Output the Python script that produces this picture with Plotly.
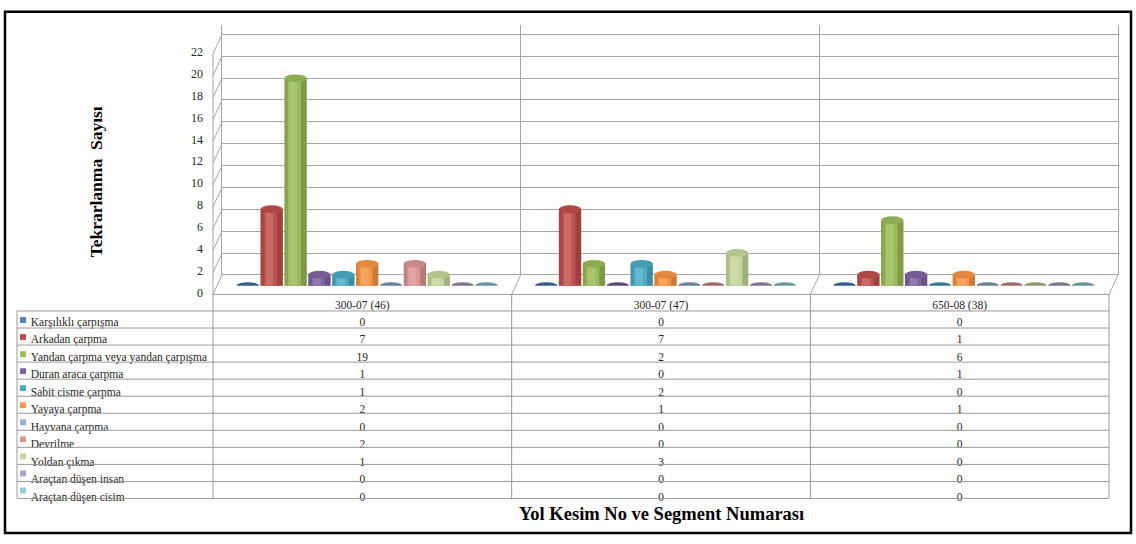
import plotly.graph_objects as go

# ---- data -------------------------------------------------------------
categories = ["300-07 (46)", "300-07 (47)", "650-08 (38)"]
series_names = [
    "Karşılıklı çarpışma",
    "Arkadan çarpma",
    "Yandan çarpma veya yandan çarpışma",
    "Duran araca çarpma",
    "Sabit cisme çarpma",
    "Yayaya çarpma",
    "Hayvana çarpma",
    "Devrilme",
    "Yoldan çıkma",
    "Araçtan düşen insan",
    "Araçtan düşen cisim",
]
karsilikli = [0, 0, 0]
arkadan = [7, 7, 1]
yandan = [19, 2, 6]
duran_araca = [1, 0, 1]
sabit_cisme = [1, 2, 0]
yayaya = [2, 1, 1]
hayvana = [0, 0, 0]
devrilme = [2, 0, 0]
yoldan_cikma = [1, 3, 0]
dusen_insan = [0, 0, 0]
dusen_cisim = [0, 0, 0]
series_values = [karsilikli, arkadan, yandan, duran_araca, sabit_cisme, yayaya,
                 hayvana, devrilme, yoldan_cikma, dusen_insan, dusen_cisim]
y_ticks = list(range(0, 23, 2))

# ---- styles -----------------------------------------------------------
colors = ["#4F81BD", "#C0504D", "#9BBB59", "#8064A2", "#4BACC6", "#F79646",
          "#95B3D7", "#D99694", "#C3D69B", "#B3A2C7", "#93CDDD"]
GRID = "#a6a6a6"
TABLE_LINE = "#9a9a9a"
TXT = "#262626"
SERIF = "Liberation Serif, Times New Roman, serif"

W, H = 1136, 544


def px(x):
    return x / W


def py(y):
    return 1 - y / H


def shade(hexcol, f):
    r, g, b = (int(hexcol[i:i + 2], 16) for i in (1, 3, 5))
    if f < 1:
        r, g, b = r * f, g * f, b * f
    else:
        t = f - 1
        r, g, b = r + (255 - r) * t, g + (255 - g) * t, b + (255 - b) * t
    return "#%02x%02x%02x" % (int(r), int(g), int(b))


# geometry of the 3-D frame (pixels)
FRONT_L, FRONT_R, FRONT_Y0 = 213, 1109, 295
BACK_L, BACK_R, BACK_Y0, BACK_TOP = 222, 1118, 275, 18
UNIT = 11.227                      # pixels per count on the walls
BAR_L, BAR_R, BAR_Y0, BAR_UNIT = 218, 1113, 286, 11.2
Y_MAX = 22
TABLE_L = 17
HEAD_H, ROW_H = 17, 17.5
TEXT_LIFT = 2.5                    # raises table text to the middle of its row

fig = go.Figure()

# ---- cylinders ---------------------------------------------------------
n = len(series_names)
slot = 0.08
bw = 0.075
cap_h = 4.0 / BAR_UNIT
disc_h = 3.5 / BAR_UNIT
shapes = []
for j, (name, vals, col) in enumerate(zip(series_names, series_values, colors)):
    xs = [i + (j - (n - 1) / 2) * slot for i in range(len(categories))]
    fig.add_trace(go.Bar(x=xs, y=vals, width=bw, name=name, marker_color=col,
                         marker_line_width=0, xaxis="x2", yaxis="y2",
                         showlegend=False, hoverinfo="skip"))
    # rounded lighting on the cylinder body
    fig.add_trace(go.Bar(x=[x - bw * 0.42 for x in xs], y=vals, width=bw * 0.16,
                         marker_color="rgba(0,0,0,0.12)", marker_line_width=0,
                         xaxis="x2", yaxis="y2", showlegend=False, hoverinfo="skip"))
    fig.add_trace(go.Bar(x=[x + bw * 0.37 for x in xs], y=vals, width=bw * 0.26,
                         marker_color="rgba(0,0,0,0.18)", marker_line_width=0,
                         xaxis="x2", yaxis="y2", showlegend=False, hoverinfo="skip"))
    fig.add_trace(go.Bar(x=[x - bw * 0.1 for x in xs], y=vals, width=bw * 0.34,
                         marker_color="rgba(255,255,255,0.15)", marker_line_width=0,
                         xaxis="x2", yaxis="y2", showlegend=False, hoverinfo="skip"))
    for x, v in zip(xs, vals):
        if v > 0:
            shapes.append(dict(type="circle", xref="x2", yref="y2", layer="below",
                               x0=x - bw / 2, x1=x + bw / 2, y0=-cap_h, y1=cap_h,
                               fillcolor=shade(col, 0.85), line_width=0))
            shapes.append(dict(type="circle", xref="x2", yref="y2", layer="above",
                               x0=x - bw / 2, x1=x + bw / 2, y0=v - cap_h, y1=v + cap_h,
                               fillcolor=shade(col, 0.92), line_width=0))
        else:
            shapes.append(dict(type="circle", xref="x2", yref="y2", layer="above",
                               x0=x - bw / 2, x1=x + bw / 2, y0=-disc_h, y1=disc_h,
                               fillcolor=shade(col, 0.72), line_width=0))

# empty traces so the wall and front value axes are laid out
fig.add_trace(go.Scatter(x=[], y=[], xaxis="x3", yaxis="y3", showlegend=False))
fig.add_trace(go.Scatter(x=[], y=[], xaxis="x", yaxis="y", showlegend=False))

# ---- 3-D frame lines (side wall and floor) -----------------------------
line_style = dict(color=GRID, width=1)
for t in y_ticks:
    shapes.append(dict(type="line", xref="paper", yref="paper", layer="below",
                       x0=px(FRONT_L), y0=py(FRONT_Y0 - t * UNIT),
                       x1=px(BACK_L), y1=py(BACK_Y0 - t * UNIT), line=line_style))
shapes.append(dict(type="line", xref="paper", yref="paper", layer="below",
                   x0=px(FRONT_L), y0=py(FRONT_Y0 - Y_MAX * UNIT),
                   x1=px(FRONT_L), y1=py(FRONT_Y0), line=line_style))
ncat = len(categories)
cat_w = (FRONT_R - FRONT_L) / ncat
for k in range(1, ncat + 1):
    fx = FRONT_L + k * cat_w
    bx = BACK_L + k * (BACK_R - BACK_L) / ncat
    shapes.append(dict(type="line", xref="paper", yref="paper", layer="below",
                       x0=px(fx), y0=py(FRONT_Y0), x1=px(bx), y1=py(BACK_Y0),
                       line=line_style))

# ---- data table grid ----------------------------------------------------
tline = dict(color=TABLE_LINE, width=1)
rows_top = FRONT_Y0 + HEAD_H
table_bottom = rows_top + ROW_H * n
shapes.append(dict(type="line", xref="paper", yref="paper", layer="above",
                   x0=px(FRONT_L), x1=px(FRONT_R), y0=py(FRONT_Y0), y1=py(FRONT_Y0),
                   line=tline))
for r in range(n + 1):
    yy = rows_top + r * ROW_H
    shapes.append(dict(type="line", xref="paper", yref="paper", layer="above",
                       x0=px(TABLE_L), x1=px(FRONT_R), y0=py(yy), y1=py(yy),
                       line=tline))
shapes.append(dict(type="line", xref="paper", yref="paper", layer="above",
                   x0=px(TABLE_L), x1=px(TABLE_L), y0=py(rows_top), y1=py(table_bottom),
                   line=tline))
for k in range(ncat + 1):
    xx = FRONT_L + k * cat_w
    shapes.append(dict(type="line", xref="paper", yref="paper", layer="above",
                       x0=px(xx), x1=px(xx), y0=py(FRONT_Y0), y1=py(table_bottom),
                       line=tline))

# legend keys in the first table column
for r, col in enumerate(colors):
    cy = rows_top + ROW_H * (r + 0.5) + 0.5
    shapes.append(dict(type="rect", xref="paper", yref="paper", layer="above",
                       x0=px(20), x1=px(26), y0=py(cy + 3), y1=py(cy - 3),
                       fillcolor=col, line_width=0))

# outer chart border
shapes.append(dict(type="rect", xref="paper", yref="paper", layer="above",
                   x0=px(5), y0=py(540), x1=px(1131), y1=py(5),
                   line=dict(color="black", width=2.5)))

# ---- data table text (also acts as legend) -----------------------------
# non-breaking spaces keep every series name on one line
NB = "\u00a0"
first_col = [NB * 2 + nm.replace(" ", NB) for nm in series_names]
columns = [first_col] + [[str(vals[i]) for vals in series_values]
                         for i in range(ncat)]
clear = "rgba(0,0,0,0)"
fig.add_trace(go.Table(
    domain=dict(x=[px(TABLE_L), px(FRONT_R)],
                y=[py(table_bottom + 12), py(FRONT_Y0 - TEXT_LIFT)]),
    columnwidth=[FRONT_L - TABLE_L] + [cat_w] * ncat,
    header=dict(values=[""] + categories, height=HEAD_H,
                fill_color=clear, line=dict(color=clear, width=0),
                font=dict(family=SERIF, size=11.5, color=TXT),
                align="center"),
    cells=dict(values=columns, height=ROW_H, fill_color=clear,
               line=dict(color=clear, width=0),
               font=dict(family=SERIF, size=11.5, color=TXT),
               align=["left"] + ["center"] * ncat),
))

# ---- axes ---------------------------------------------------------------
hidden = dict(showgrid=False, zeroline=False, showline=False,
              showticklabels=False, ticks="", fixedrange=True)
fig.update_layout(
    width=W, height=H,
    margin=dict(l=0, r=0, t=0, b=0),
    paper_bgcolor="white", plot_bgcolor="rgba(0,0,0,0)",
    barmode="overlay",
    font=dict(family=SERIF, color=TXT),
    # back wall
    xaxis=dict(domain=[px(BACK_L), px(BACK_R)], range=[0, ncat],
               tickvals=list(range(1, ncat)), showgrid=True, gridcolor=GRID,
               gridwidth=1, zeroline=False, showline=False,
               showticklabels=False, ticks="", anchor="y", fixedrange=True),
    yaxis=dict(domain=[py(BACK_Y0), py(BACK_TOP)],
               range=[0, (BACK_Y0 - BACK_TOP) / UNIT], tickvals=y_ticks,
               showgrid=True, gridcolor=GRID, gridwidth=1,
               zeroline=True, zerolinecolor=GRID, zerolinewidth=1,
               showline=True, mirror=True, linecolor=GRID, linewidth=1,
               showticklabels=False, ticks="", anchor="x", fixedrange=True),
    # cylinders
    xaxis2=dict(domain=[px(BAR_L), px(BAR_R)], range=[-0.5, ncat - 0.5],
                anchor="y2", **hidden),
    yaxis2=dict(domain=[py(BAR_Y0), py(BAR_Y0 - Y_MAX * BAR_UNIT)],
                range=[0, Y_MAX], anchor="x2", **hidden),
    # value labels on the front edge
    xaxis3=dict(domain=[px(FRONT_L), px(FRONT_R)], range=[0, 1],
                anchor="y3", **hidden),
    yaxis3=dict(domain=[py(FRONT_Y0 - 2), py(FRONT_Y0 - 2 - Y_MAX * UNIT)],
                range=[0, Y_MAX], tickvals=y_ticks, anchor="x3",
                showgrid=False, zeroline=False, showline=False, ticks="",
                ticklabelstandoff=9, showticklabels=True, fixedrange=True,
                tickfont=dict(family=SERIF, size=12, color=TXT)),
    shapes=shapes,
    annotations=[
        dict(text="<b>Tekrarlanma  Sayısı</b>", xref="paper", yref="paper",
             x=px(96), y=py(180), xanchor="center", yanchor="middle",
             textangle=-90, showarrow=False,
             font=dict(family=SERIF, size=17.5, color="black")),
        dict(text="<b>Yol Kesim No ve Segment Numarası</b>", xref="paper",
             yref="paper", x=px((FRONT_L + FRONT_R) / 2), y=py(520),
             xanchor="center", yanchor="middle", showarrow=False,
             font=dict(family=SERIF, size=18.5, color="black")),
    ],
)

fig.write_html("out.html")
